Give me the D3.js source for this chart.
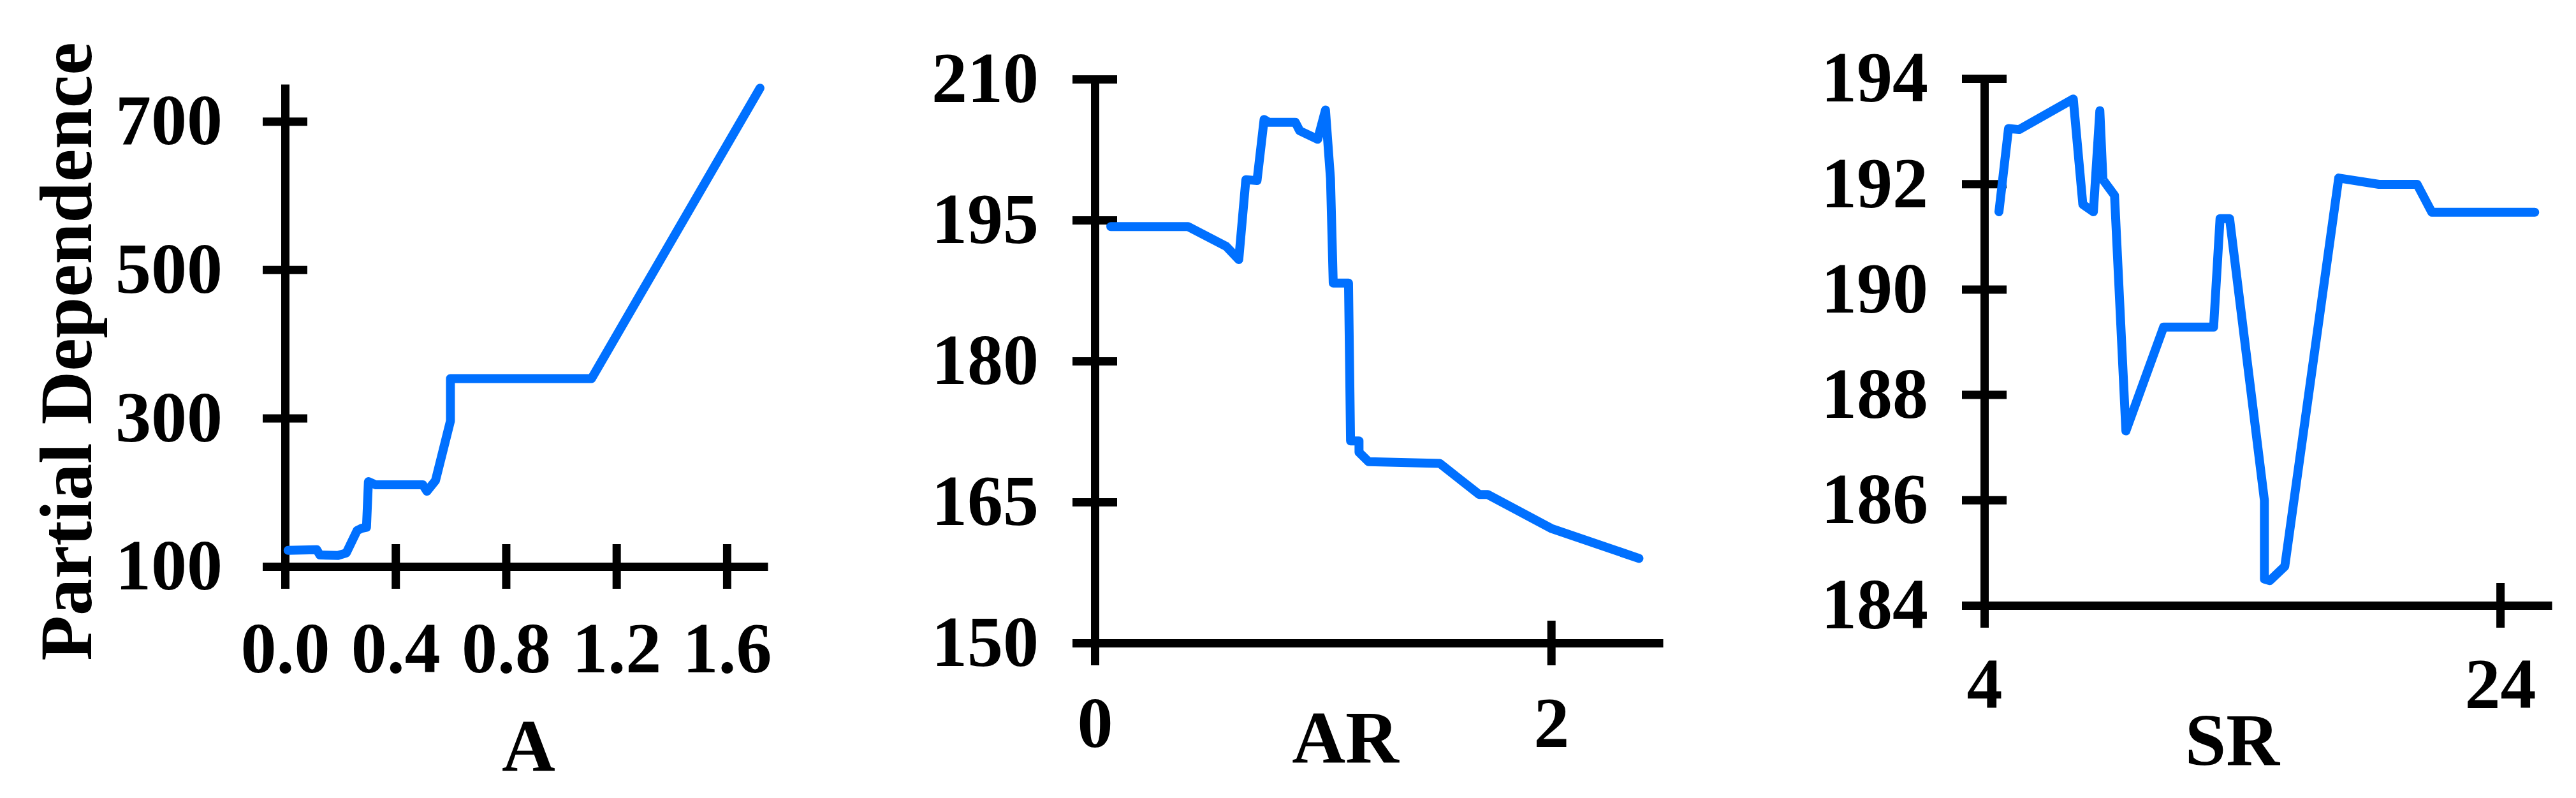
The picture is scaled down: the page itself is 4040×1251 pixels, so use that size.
<!DOCTYPE html>
<html><head><meta charset="utf-8">
<script src="https://cdn.jsdelivr.net/npm/d3@7/dist/d3.min.js"></script>
<style>
html,body{margin:0;padding:0;background:#fff;}
svg text{font-family:"Liberation Serif","Times New Roman",serif;font-weight:bold;fill:#000;}
.tk{font-size:112px;}
.ttl{font-size:116px;}
</style></head><body>
<svg id="c" width="4040" height="1251" style="display:block;background:#fff"></svg>
<script>
// ---- data ----
const aX  = [0.011, 0.115, 0.126, 0.192, 0.222, 0.261, 0.276, 0.295, 0.302, 0.329, 0.499, 0.514, 0.545, 0.599, 0.599, 1.110, 1.720];
const aY  = [121.7, 122.5, 115.5, 114.8, 118.2, 148.4, 151.2, 152.7, 214.3, 210, 210, 201.4, 215.8, 296, 353.3, 353.3, 744.7];
const arX = [0.07, 0.409, 0.576, 0.631, 0.662, 0.711, 0.742, 0.763, 0.879, 0.898, 0.977, 1.011, 1.033, 1.045, 1.112, 1.121, 1.158, 1.158, 1.2, 1.512, 1.685, 1.722, 2.0, 2.385];
const arY = [194.3, 194.3, 192.2, 190.8, 199.3, 199.2, 205.7, 205.4, 205.4, 204.5, 203.6, 206.7, 199.4, 188.3, 188.3, 171.5, 171.5, 170.3, 169.3, 169.1, 165.8, 165.8, 162.2, 159.0];
const srX = [4.568, 4.939, 5.35, 7.45, 7.82, 8.23, 8.48, 8.60, 9.05, 9.49, 10.95, 12.89, 13.14, 13.51, 14.86, 14.86, 15.07, 15.65, 17.74, 19.30, 20.78, 21.35, 25.34];
const srY = [191.47, 193.05, 193.03, 193.61, 191.61, 191.47, 193.39, 192.08, 191.78, 187.31, 189.28, 189.28, 191.34, 191.34, 185.99, 184.50, 184.47, 184.74, 192.11, 191.99, 191.99, 191.46, 191.46];

const aTicksX  = [0, 0.4, 0.8, 1.2, 1.6];
const aTicksY  = [100, 300, 500, 700];
const arTicksX = [0, 2];
const arTicksY = [150, 165, 180, 195, 210];
const srTicksX = [4, 24];
const srTicksY = [184, 186, 188, 190, 192, 194];

const xTitles = ["A", "AR", "SR"];
const yTitle = "Partial Dependence";

// ---- layout ----
const panels = [
  {xs:aX, ys:aY, xDom:[0,1.748], yDom:[100,750], xR:[447,1204], yR:[888,132], xt:aTicksX, yt:aTicksY, xf:d3.format(".1f"), yPad:63, xPad:51, tx:829, ty:1208},
  {xs:arX, ys:arY, xDom:[0,2.49], yDom:[150,210], xR:[1717,2608], yR:[1008,124], xt:arTicksX, yt:arTicksY, xf:d3.format("d"), yPad:53, xPad:48, tx:2110, ty:1195},
  {xs:srX, ys:srY, xDom:[4,26], yDom:[184,194], xR:[3112,4002], yR:[949,123], xt:srTicksX, yt:srTicksY, xf:d3.format("d"), yPad:53, xPad:46, tx:3501, ty:1199}
];

const svg = d3.select("#c");
const TS = 35, AW = 13;

panels.forEach((p, i) => {
  const x = d3.scaleLinear().domain(p.xDom).range(p.xR);
  const y = d3.scaleLinear().domain(p.yDom).range(p.yR);

  const gx = svg.append("g").attr("transform", `translate(0,${p.yR[0]})`)
    .call(d3.axisBottom(x).tickValues(p.xt).tickFormat(p.xf).tickSizeOuter(0).tickSizeInner(TS).tickPadding(p.xPad));
  const gy = svg.append("g").attr("transform", `translate(${p.xR[0]},0)`)
    .call(d3.axisLeft(y).tickValues(p.yt).tickFormat(d3.format("d")).tickSizeOuter(0).tickSizeInner(TS).tickPadding(p.yPad));

  [gx, gy].forEach(g => {
    g.attr("font-size", null).attr("font-family", null);
    g.select(".domain").attr("stroke", "#000").attr("stroke-width", AW);
    g.selectAll(".tick line").attr("stroke", "#000").attr("stroke-width", AW);
    g.selectAll(".tick text").attr("class", "tk");
  });
  gx.selectAll(".tick line").attr("y1", -TS).attr("y2", TS);
  gy.selectAll(".tick line").attr("x1", -TS).attr("x2", TS);

  const pts = p.xs.map((v, k) => [v, p.ys[k]]);
  svg.append("path").datum(pts)
    .attr("fill", "none").attr("stroke", "#0070ff").attr("stroke-width", 14)
    .attr("stroke-linejoin", "round").attr("stroke-linecap", "round")
    .attr("d", d3.line().x(d => x(d[0])).y(d => y(d[1])));

  svg.append("text").attr("class", "ttl").attr("text-anchor", "middle")
    .attr("x", p.tx).attr("y", p.ty).text(xTitles[i]);
});

svg.append("text").attr("class", "ttl").attr("text-anchor", "middle")
  .attr("transform", "translate(143,551) rotate(-90)").text(yTitle);
</script>
</body></html>
